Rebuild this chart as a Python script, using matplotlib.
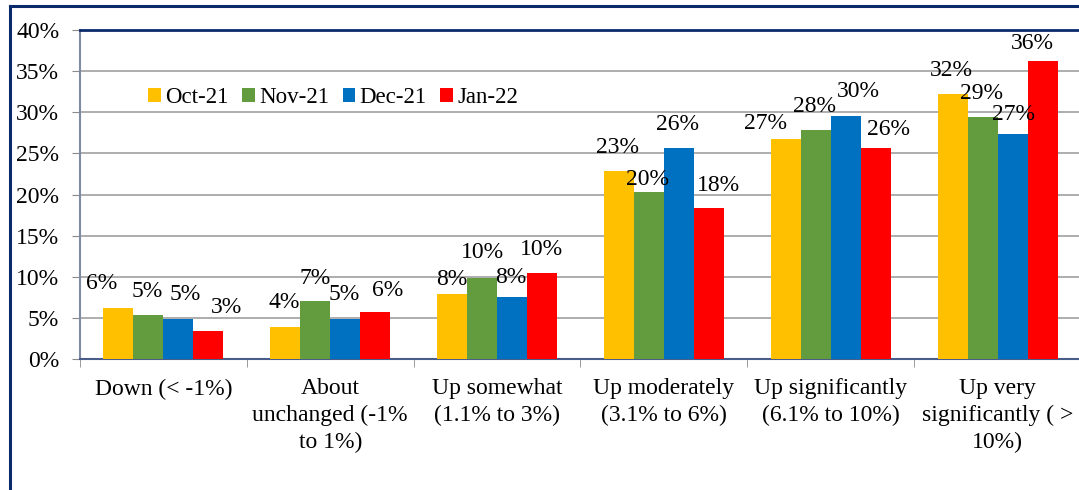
import matplotlib.pyplot as plt
import numpy as np
from matplotlib.lines import Line2D

plt.rcParams['font.family'] = ['Liberation Serif', 'DejaVu Serif']

categories = ['Down (< -1%)',
              'About\nunchanged (-1%\nto 1%)',
              'Up somewhat\n(1.1% to 3%)',
              'Up moderately\n(3.1% to 6%)',
              'Up significantly\n(6.1% to 10%)',
              'Up very\nsignificantly ( >\n10%)']
series_names = ['Oct-21', 'Nov-21', 'Dec-21', 'Jan-22']
oct21 = [6.2, 3.9, 7.9, 22.8, 26.7, 32.2]
nov21 = [5.35, 7.05, 9.9, 20.3, 27.8, 29.4]
dec21 = [4.9, 4.9, 7.55, 25.6, 29.6, 27.4]
jan22 = [3.45, 5.7, 10.45, 18.3, 25.7, 36.2]
y_ticks = [0, 5, 10, 15, 20, 25, 30, 35, 40]

colors = ['#FFC000', '#629C3F', '#0070C0', '#FF0000']

# label nudges in pixels (dx, height of label centre above bar top), per series per category
label_dx = [[-17, -1, 0, -1, -20, -1],
            [-1, 0, 0, -1, -1, -1],
            [7, -1, -1, -1, 13, 1],
            [18, 12, -1, 10, 13, -10]]
label_dy = [[25, 24, 15, 24, 16, 24],
            [23, 23, 25, 13, 24, 24],
            [24, 24, 19, 24, 24, 19],
            [23, 22, 24, 23, 18, 18]]

fig = plt.figure(figsize=(10.79, 4.90), dpi=100)
ax = fig.add_axes([80 / 1079, 1 - 359 / 490, 1001 / 1079, 329 / 490])

x = np.arange(len(categories))
width = 0.18
all_series = [oct21, nov21, dec21, jan22]
for i, vals in enumerate(all_series):
    pos = x + (i - 1.5) * width
    ax.bar(pos, vals, width, color=colors[i], label=series_names[i], zorder=3)
    for j, v in enumerate(vals):
        ax.annotate(f'{v:.0f}%', (pos[j], v),
                    xytext=(label_dx[i][j] * 0.72, label_dy[i][j] * 0.72),
                    textcoords='offset points', ha='center', va='center',
                    fontsize=17, zorder=4)

ax.set_xlim(-0.5, 5.5)
ax.set_ylim(0, 40)
ax.set_yticks(y_ticks)
ax.set_yticklabels([f'{t}%' for t in y_ticks], fontsize=17)
ax.set_xticks(x)
ax.set_xticklabels(categories, fontsize=17, linespacing=1.36)
ax.set_xticks(np.arange(-0.5, 6.0, 1.0), minor=True)
ax.tick_params(axis='x', which='major', length=0, pad=14)
ax.tick_params(axis='x', which='minor', length=6, color='#8a8a8a')
ax.tick_params(axis='y', length=6, color='#8a8a8a', pad=9)
ax.yaxis.grid(True, color='#a0a0a0', linewidth=1.2, zorder=0)
ax.set_axisbelow(True)

ax.spines['right'].set_visible(False)
ax.spines['top'].set_color('#0b2a6b')
ax.spines['top'].set_linewidth(2)
ax.spines['left'].set_color('#7f8aa3')
ax.spines['left'].set_linewidth(1.5)
ax.spines['bottom'].set_color('#4a5d8a')
ax.spines['bottom'].set_linewidth(1.5)

ax.legend(loc='center left', bbox_to_anchor=(0.059, 0.794), ncol=4, frameon=False,
          fontsize=16.5, handlelength=0.55, handleheight=0.55, handletextpad=0.2,
          columnspacing=0.58, borderaxespad=0)

# outer chart border
fig.add_artist(Line2D([10 / 1079, 10 / 1079], [0, 1 - 6 / 490], color='#0b2a6b', lw=2.2))
fig.add_artist(Line2D([10 / 1079, 1], [1 - 6 / 490, 1 - 6 / 490], color='#0b2a6b', lw=2.2))

plt.savefig('out.png', dpi=100)
